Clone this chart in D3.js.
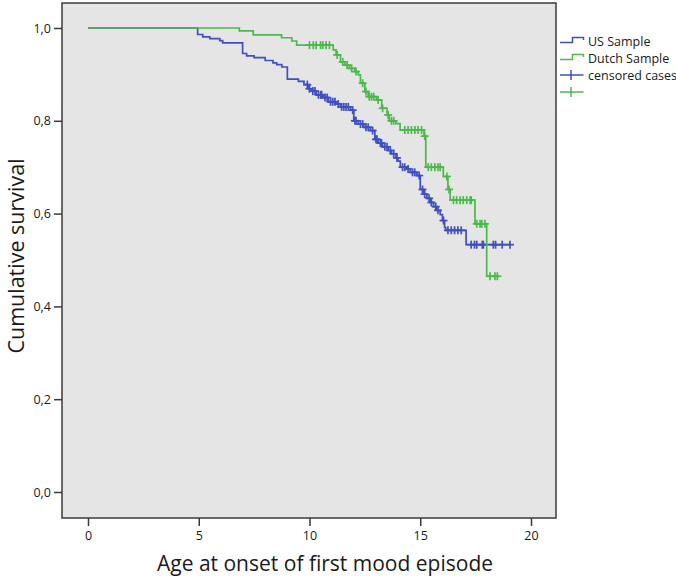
<!DOCTYPE html>
<html>
<head>
<meta charset="utf-8">
<script src="https://cdn.jsdelivr.net/npm/d3@7/dist/d3.min.js"></script>
<style>
  html, body { margin: 0; padding: 0; background: #ffffff; }
  svg text { font-family: "Open Sans", "Noto Sans", sans-serif; fill: #1a1a1a; }
</style>
</head>
<body>
<svg id="chart" width="676" height="578"></svg>
<script>
// ---- Data ----
const usEventTimes = [4.95, 5.18, 5.5, 5.95, 6.08, 6.98, 7.16, 7.5, 8.0, 8.35, 8.52, 8.75, 9.0, 9.5, 9.75, 9.95,
  10.1, 10.3, 10.6, 10.85, 11.2, 11.4, 11.85, 12.0, 12.2, 12.45, 12.75, 12.95, 13.1, 13.3, 13.55, 13.7, 13.9,
  14.0, 14.1, 14.4, 14.55, 14.85, 15.0, 15.15, 15.3, 15.45, 15.6, 15.75, 15.9, 16.0, 16.1, 16.15, 17.07];
const usSurvival = [0.986, 0.981, 0.977, 0.973, 0.968, 0.945, 0.940, 0.936, 0.930, 0.925, 0.921, 0.916, 0.890, 0.885, 0.878, 0.869,
  0.864, 0.856, 0.850, 0.841, 0.836, 0.830, 0.823, 0.800, 0.793, 0.786, 0.779, 0.760, 0.752, 0.744, 0.736, 0.729, 0.720,
  0.713, 0.700, 0.696, 0.689, 0.682, 0.652, 0.642, 0.633, 0.624, 0.615, 0.607, 0.598, 0.585, 0.570, 0.564, 0.533];
const usCensored = [9.9, 10.0, 10.15, 10.25, 10.4, 10.5, 10.55, 10.7, 10.8, 10.95, 11.05, 11.15, 11.3, 11.45, 11.55,
  11.65, 11.75, 11.95, 12.05, 12.1, 12.3, 12.4, 12.55, 12.65, 12.85, 13.0, 13.05, 13.2, 13.25, 13.4, 13.5, 13.65,
  13.8, 13.95, 14.2, 14.3, 14.45, 14.65, 14.75, 14.95, 15.1, 15.2, 15.4, 15.5, 15.7, 15.8, 16.05, 16.25, 16.4,
  16.55, 16.7, 16.85, 17.3, 17.45, 17.55, 17.8, 17.85, 18.3, 18.4, 18.7, 19.05];

const dutchEventTimes = [6.83, 7.46, 8.74, 9.2, 9.42, 11.07, 11.2, 11.4, 11.6, 11.8, 12.05, 12.2, 12.3, 12.5, 12.65,
  13.03, 13.26, 13.5, 13.6, 13.9, 14.09, 15.17, 15.25, 16.04, 16.25, 16.35, 17.47, 18.0];
const dutchSurvival = [0.994, 0.985, 0.979, 0.972, 0.963, 0.953, 0.942, 0.927, 0.920, 0.913, 0.906, 0.899, 0.881, 0.863, 0.852,
  0.845, 0.827, 0.8125, 0.800, 0.794, 0.780, 0.767, 0.700, 0.680, 0.652, 0.629, 0.578, 0.465];
const dutchCensored = [10.0, 10.17, 10.3, 10.5, 10.6, 10.75, 10.9, 11.25, 11.5, 11.7, 11.9, 12.1, 12.4, 12.55, 12.7,
  12.8, 12.9, 13.1, 13.3, 13.55, 13.7, 13.8, 14.3, 14.45, 14.6, 14.76, 14.9, 15.06, 15.2, 15.36, 15.5, 15.66,
  15.8, 15.9, 16.2, 16.3, 16.5, 16.64, 16.8, 16.94, 17.1, 17.25, 17.3, 17.55, 17.7, 17.78, 17.92, 18.15, 18.37, 18.48];

const xTicks = [0, 5, 10, 15, 20];
const yTicks = [0, 0.2, 0.4, 0.6, 0.8, 1.0];
const seriesNames = ["US Sample", "Dutch Sample"];
const legendLabels = ["US Sample", "Dutch Sample", "censored cases", ""];
const colors = { us: "#3f4fbf", dutch: "#4cb84c" };

// ---- Layout ----
const svg = d3.select("#chart");
const plot = { left: 62, right: 556, top: 3, bottom: 518 };
const x = d3.scaleLinear().domain([0, 20]).range([88, 531]);
const y = d3.scaleLinear().domain([0, 1]).range([492, 28]);

svg.append("rect")
  .attr("x", plot.left).attr("y", plot.top)
  .attr("width", plot.right - plot.left).attr("height", plot.bottom - plot.top)
  .attr("fill", "#e5e5e5").attr("stroke", "#3a3a3a").attr("stroke-width", 1.5);

const fmt = d => d3.format(".1f")(d).replace(".", ",");

const yAxis = svg.append("g").attr("transform", `translate(${plot.left},0)`)
  .call(d3.axisLeft(y).tickValues(yTicks).tickFormat(fmt).tickSize(8).tickPadding(3));
yAxis.select(".domain").remove();
yAxis.selectAll("line").attr("stroke", "#3a3a3a").attr("stroke-width", 1.5);
yAxis.selectAll("text").style("font-size", "12.5px").attr("fill", "#1a1a1a");

const xAxis = svg.append("g").attr("transform", `translate(0,${plot.bottom})`)
  .call(d3.axisBottom(x).tickValues(xTicks).tickFormat(d3.format("d")).tickSize(8).tickPadding(5));
xAxis.select(".domain").remove();
xAxis.selectAll("line").attr("stroke", "#3a3a3a").attr("stroke-width", 1.5);
xAxis.selectAll("text").style("font-size", "12.5px").attr("fill", "#1a1a1a");

svg.append("text")
  .attr("x", 325).attr("y", 571)
  .attr("text-anchor", "middle").style("font-size", "21px")
  .text("Age at onset of first mood episode");

svg.append("text")
  .attr("transform", `translate(24,256) rotate(-90)`)
  .attr("text-anchor", "middle").style("font-size", "21.5px")
  .text("Cumulative survival");

// ---- Curves ----
function steps(times, surv, lastCensor) {
  const pts = [[0, 1]];
  times.forEach((t, i) => pts.push([t, surv[i]]));
  const end = Math.max(times[times.length - 1], lastCensor);
  pts.push([end, surv[surv.length - 1]]);
  return pts;
}
function survAt(times, surv, t) {
  let s = 1;
  for (let i = 0; i < times.length; i++) { if (times[i] <= t) s = surv[i]; }
  return s;
}

const line = d3.line().x(d => x(d[0])).y(d => y(d[1])).curve(d3.curveStepAfter);

const series = [
  { key: "us", times: usEventTimes, surv: usSurvival, cens: usCensored },
  { key: "dutch", times: dutchEventTimes, surv: dutchSurvival, cens: dutchCensored }
];

series.forEach(s => {
  const g = svg.append("g");
  g.append("path")
    .datum(steps(s.times, s.surv, d3.max(s.cens)))
    .attr("d", line).attr("fill", "none")
    .attr("stroke", colors[s.key]).attr("stroke-width", 1.7);
  const marks = g.selectAll("g.c").data(s.cens).enter().append("g")
    .attr("transform", t => `translate(${x(t)},${y(survAt(s.times, s.surv, t))})`);
  marks.append("line").attr("x1", -4).attr("x2", 4).attr("y1", 0).attr("y2", 0)
    .attr("stroke", colors[s.key]).attr("stroke-width", 1.7);
  marks.append("line").attr("x1", 0).attr("x2", 0).attr("y1", -4).attr("y2", 4)
    .attr("stroke", colors[s.key]).attr("stroke-width", 1.7);
});

// ---- Legend ----
const lg = svg.append("g");
const legendRows = [
  { label: legendLabels[0], color: colors.us, type: "step", y: 41 },
  { label: legendLabels[1], color: colors.dutch, type: "step", y: 58 },
  { label: legendLabels[2], color: colors.us, type: "cens", y: 75 },
  { label: legendLabels[3], color: colors.dutch, type: "cens", y: 92 }
];
legendRows.forEach(r => {
  if (r.type === "step") {
    lg.append("path")
      .attr("d", `M560,${r.y + 1.5}H572.5V${r.y - 3.5}H583.5V${r.y - 1}`)
      .attr("fill", "none").attr("stroke", r.color).attr("stroke-width", 1.5);
  } else {
    lg.append("line").attr("x1", 560).attr("x2", 583.5).attr("y1", r.y).attr("y2", r.y)
      .attr("stroke", r.color).attr("stroke-width", 1.5);
    lg.append("line").attr("x1", 571).attr("x2", 571).attr("y1", r.y - 5).attr("y2", r.y + 5)
      .attr("stroke", r.color).attr("stroke-width", 1.5);
  }
  lg.append("text").attr("x", 588).attr("y", r.y + 4.5)
    .style("font-size", "12.5px").text(r.label);
});
</script>
</body>
</html>
